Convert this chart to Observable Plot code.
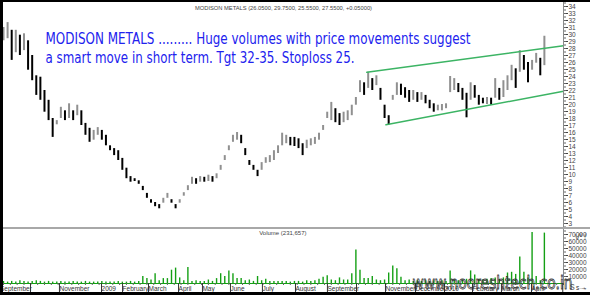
<!DOCTYPE html>
<html><head><meta charset="utf-8">
<script src="https://cdn.jsdelivr.net/npm/d3@7"></script>
<script src="https://cdn.jsdelivr.net/npm/@observablehq/plot@0.6"></script>
<style>
html,body{margin:0;padding:0;background:#fff;}
#wrap{position:relative;width:590px;height:295px;background:#fff;overflow:hidden;}
#wrap svg{overflow:hidden;display:block;}
#price{position:absolute;left:3px;top:2px;}
#vol{position:absolute;left:3px;top:229px;}
#sep{position:absolute;left:3px;top:227px;width:587px;height:2px;background:#a8a8a8;}
.bt{position:absolute;background:#000;}
</style></head><body>
<div id="wrap">
  <div id="price"></div><div id="sep"></div><div id="vol"></div>
  <div class="bt" style="left:0;top:0;width:590px;height:2px"></div>
  <div class="bt" style="left:0;top:0;width:3px;height:295px"></div>
  <div class="bt" style="left:0;top:292px;width:590px;height:3px"></div>
</div>
<script>
// ---- data (one sample every 3 trading sessions) ----
const priceHigh = [31.0,31.7,30.6,30.6,29.9,30.1,29.1,27.0,24.1,23.9,
22.0,20.6,18.0,17.7,19.6,19.1,20.1,19.1,19.9,19.1,
17.3,16.6,16.3,16.7,16.3,15.6,14.1,13.7,13.4,12.3,
10.9,9.7,9.4,9.1,8.3,7.3,6.4,6.0,5.7,6.6,
7.3,6.4,5.7,6.4,7.4,8.4,9.6,9.4,9.7,9.6,
9.9,9.7,10.1,11.3,12.7,14.1,15.6,16.0,15.6,13.7,
12.0,11.3,10.6,11.7,12.4,12.7,13.4,14.1,15.9,15.6,
15.3,15.3,15.1,14.4,14.9,15.1,15.3,15.9,17.0,18.9,
20.3,19.4,18.7,18.9,19.1,19.9,21.0,23.4,23.1,24.6,
23.7,24.1,22.3,19.9,18.4,21.3,23.1,22.9,22.4,22.0,
22.0,21.7,21.7,21.3,20.6,20.1,19.9,20.0,20.1,24.0,
23.7,23.0,22.3,21.6,23.1,22.7,21.3,20.9,21.0,20.9,
23.7,22.3,23.4,24.1,25.6,25.1,27.7,27.0,26.0,26.3,
27.3,26.6,29.75];
const priceLow = [29.1,29.4,26.3,27.4,27.0,27.7,24.9,23.4,21.3,20.6,
18.9,17.7,15.3,17.1,18.0,17.7,18.0,17.7,18.4,17.0,
15.6,14.6,14.9,15.6,14.9,14.1,13.4,12.7,12.0,10.6,
9.4,8.9,9.0,8.6,7.7,6.6,5.9,5.4,5.1,5.9,
6.6,5.9,5.1,5.9,6.9,7.7,8.6,8.6,8.9,8.9,
9.0,8.9,9.4,10.6,12.0,13.4,14.6,14.9,14.4,12.7,
11.3,10.6,9.7,10.6,11.6,11.7,12.0,13.0,14.1,14.4,
14.1,14.0,13.7,12.7,13.7,14.1,14.3,14.9,16.3,18.0,
17.7,17.4,17.0,17.4,17.7,18.4,19.9,21.7,21.3,22.3,
22.0,22.7,20.6,18.0,17.1,20.6,21.3,21.3,20.9,20.3,
20.6,20.3,20.6,20.1,19.4,18.9,19.1,19.1,19.4,21.7,
22.0,21.7,20.6,18.1,20.6,20.9,19.9,20.1,20.0,19.9,
20.9,20.6,21.0,22.0,23.4,22.3,24.6,24.9,23.1,24.9,
25.9,24.1,25.55];
const volumeK = [3,2,3,2,4,3,2,3,4,3,
2,3,2,2,3,2,2,3,2,2,
3,2,2,2,3,2,2,2,3,2,
2,3,2,3,10,7,5,14,4,7,
7,19,22,8,4,23,3,4,3,3,
5,3,7,14,10,18,14,7,7,4,
5,3,10,4,6,3,3,3,3,3,
2,3,3,2,4,3,4,6,9,11,
5,4,8,5,5,14,48,19,7,7,
10,5,4,5,15,25,21,9,4,5,
3,4,3,4,3,4,3,4,3,18,
5,4,5,6,18,12,6,5,6,7,
8,6,8,15,16,13,38,16,8,73,
10,4,72];
const sessionStep = 3;
const sessionDomain = [0, 410];

// trend channel (session, price)
const channelUpperSession = [266, 410];
const channelUpperPrice = [24.6, 28.4];
const channelLowerSession = [280, 410];
const channelLowerPrice = [17.1, 21.9];

// axes
const priceTicks = d3.range(3, 35, 1);
const priceMinorTicks = d3.range(2.5, 34.6, 0.5);
const volumeTicks = [10000,20000,30000,40000,50000,60000,70000];
const volumeMinorTicks = d3.range(5000, 75001, 5000);
const monthSessions = [-4, 18.3, 39.5, 70.3, 85.7, 104.7, 126.7, 144.2, 164.7, 188.1, 212.3, 235.7, 257, 278.2, 300.2, 321.4, 341.9, 363.1, 385.1, 408];
const monthLabels = ["September","","November","2009","February","March","April","May","June","July","August","September","","November","December","2010","February","March","April",""];
const weekTicks = d3.range(0, 411, 5);

const headerTitle = "MODISON METALS (26.0500, 29.7500, 25.5500, 27.5500, +0.05000)";
const noteLines = ["MODISON METALS ......... Huge volumes with price movements suggest",
                   "a smart move in short term. Tgt 32-35. Stoploss 25."];
const volumeTitle = "Volume (231,657)";
const watermark = "www.nooreshtech.co.in";

// ---- build tables ----
const bars = priceHigh.map((h, i) => {
  const mid = (h + priceLow[i]) / 2;
  const prev = i > 0 ? (priceHigh[i-1] + priceLow[i-1]) / 2 : mid;
  return {s: i * sessionStep, hi: h, lo: priceLow[i], down: mid < prev};
});
const vols = volumeK.map((v, i) => ({s: i * sessionStep, v: v * 1000}));
const upper = channelUpperSession.map((s, i) => ({s, p: channelUpperPrice[i]}));
const lower = channelLowerSession.map((s, i) => ({s, p: channelLowerPrice[i]}));
const labelMap = new Map(monthSessions.map((s, i) => [s, monthLabels[i]]));

const axisFont = "Liberation Sans, Arial, sans-serif";
const W = 587;

const price = Plot.plot({
  width: W, height: 225,
  marginLeft: 0, marginRight: 27, marginTop: 0, marginBottom: 0,
  x: {domain: sessionDomain, axis: null},
  y: {domain: [3 - 4/7, 34 + 4/7], axis: null},
  style: {background: "white", fontFamily: axisFont},
  marks: [
    Plot.ruleX(bars.filter(d => !d.down), {x: "s", y1: "lo", y2: "hi", stroke: "#909090", strokeWidth: 2}),
    Plot.ruleX(bars.filter(d => d.down), {x: "s", y1: "lo", y2: "hi", stroke: "#000", strokeWidth: 2}),
    Plot.line(upper, {x: "s", y: "p", stroke: "#3cb464", strokeWidth: 1.5}),
    Plot.line(lower, {x: "s", y: "p", stroke: "#3cb464", strokeWidth: 1.5}),
    Plot.ruleX([sessionDomain[1]], {stroke: "#8a8a8a"}),
    Plot.axisY({anchor: "right", ticks: priceTicks, tickSize: 4, tickPadding: 1, fontSize: 6.5, color: "#444", tickFormat: d => String(d)}),
    Plot.axisY({anchor: "right", ticks: priceMinorTicks, tickSize: 2, color: "#666", tickFormat: () => ""}),
    Plot.text([headerTitle], {text: d => d, frameAnchor: "top", dy: 6, lineAnchor: "middle", fontSize: 6, fill: "#444"}),
    Plot.text([noteLines[0]], {text: d => d, frameAnchor: "top-left", dx: 42, dy: 41, lineAnchor: "bottom", textAnchor: "start", fontSize: 15, fill: "#2222ee", fontFamily: "Comic Sans MS, DejaVu Sans, sans-serif"}),
    Plot.text([noteLines[1]], {text: d => d, frameAnchor: "top-left", dx: 42, dy: 60, lineAnchor: "bottom", textAnchor: "start", fontSize: 15, fill: "#2222ee", fontFamily: "Comic Sans MS, DejaVu Sans, sans-serif"})
  ]
});

const vol = Plot.plot({
  width: W, height: 63,
  marginLeft: 0, marginRight: 27, marginTop: 0, marginBottom: 9,
  x: {domain: sessionDomain, axis: null},
  y: {domain: [0, 70000 * 54 / 49], axis: null},
  style: {background: "white", fontFamily: axisFont},
  marks: [
    Plot.ruleX(vols, {x: "s", y1: 0, y2: "v", stroke: "#14a014", strokeWidth: 1.4}),
    Plot.ruleY([0], {stroke: "#14a014"}),
    Plot.ruleX([sessionDomain[1]], {stroke: "#8a8a8a"}),
    Plot.axisY({anchor: "right", ticks: volumeTicks, tickSize: 4, tickPadding: 1, fontSize: 6.5, color: "#444", tickFormat: d => String(d)}),
    Plot.axisY({anchor: "right", ticks: volumeMinorTicks, tickSize: 2, color: "#666", tickFormat: () => ""}),
    Plot.axisX({anchor: "bottom", ticks: weekTicks, tickSize: 2, color: "#666", tickFormat: () => ""}),
    Plot.axisX({anchor: "bottom", ticks: monthSessions, tickSize: 9, tickPadding: -6, textAnchor: "start", dx: 2, fontSize: 6.5, color: "#333", tickFormat: d => labelMap.get(d) ?? ""}),
    Plot.text([volumeTitle], {text: d => d, frameAnchor: "top", dx: 23, dy: 4, textAnchor: "end", lineAnchor: "middle", fontSize: 6, fill: "#444"}),
    Plot.text([watermark], {text: d => d, frameAnchor: "top-left", dx: 409, dy: 59, textAnchor: "start", lineAnchor: "bottom", fontSize: 17, fill: "none", stroke: "#333", strokeWidth: 0.8, fontFamily: "DejaVu Sans, sans-serif"})
  ]
});

function fit(svg, str, len) {
  for (const t of svg.querySelectorAll("text")) {
    if (t.textContent === str) { t.setAttribute("textLength", len); t.setAttribute("lengthAdjust", "spacingAndGlyphs"); }
  }
}
fit(price, headerTitle, 177);
fit(price, noteLines[0], 425);
fit(price, noteLines[1], 309);
fit(vol, watermark, 160);

document.getElementById("price").appendChild(price);
document.getElementById("vol").appendChild(vol);
</script>
</body></html>
